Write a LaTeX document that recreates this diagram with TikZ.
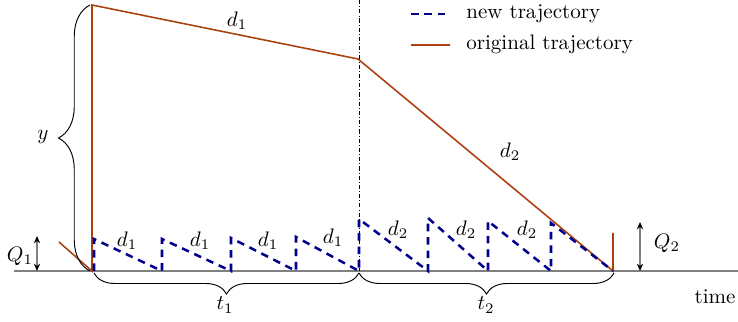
\documentclass[tikz,border=0pt]{standalone}
\usetikzlibrary{decorations.pathreplacing,arrows.meta}
\definecolor{origc}{RGB}{170,65,15}
\definecolor{newc}{RGB}{0,0,140}
\begin{document}
\begin{tikzpicture}[x=0.4762pt,y=-0.4762pt,
  orig/.style={draw=origc,line width=0.75pt},
  newtraj/.style={draw=newc,line width=1.2pt,dash pattern=on 3.6pt off 2.8pt},
  axisline/.style={draw=gray,line width=0.5pt},
  bracedec/.style={decorate,decoration={brace,amplitude=#1},line width=0.45pt},
  qarrow/.style={draw=gray,line width=0.6pt,{Stealth[black,length=3.5pt,width=3pt]}-{Stealth[black,length=3.5pt,width=3pt]}},
  lbl/.style={inner sep=0pt}]
\useasboundingbox (0,0) rectangle (738,322);
% axis
\coordinate (ax0) at (14,271);
\coordinate (ax1) at (738,271);
\draw[axisline] (ax0) -- (ax1);
% dash-dot separator
\coordinate (s0) at (359,0);
\coordinate (s1) at (359,271);
\draw[line width=0.4pt,dash pattern=on 2pt off 1pt on 0.4pt off 1pt] (s0) -- (s1);
% original trajectory
\coordinate (o0) at (59,242);
\coordinate (o1) at (92,271);
\coordinate (o2) at (92,5);
\coordinate (o3) at (358,59);
\coordinate (o4) at (613,271);
\coordinate (o5) at (613,233);
\draw[orig,line join=miter] (o0) -- (o1) -- (o2) -- (o3) -- (o4) -- (o5);
% new trajectory
\draw[newtraj] (94,271) -- (94,239) -- (162,271) -- (162,239) -- (231,271) -- (231,238)
  -- (296,271) -- (296,237) -- (359,271) -- (359,219) -- (428,271) -- (428,218)
  -- (488,271) -- (488,221) -- (551,271) -- (551,223) -- (613,271);
% braces
\coordinate (yb0) at (90,271);
\coordinate (yb1) at (90,5);
\draw[bracedec=15pt] (yb0) -- (yb1);
\coordinate (tb0) at (94,273);
\coordinate (tb1) at (359,273);
\coordinate (tb2) at (614,273);
\draw[bracedec=10pt] (tb1) -- (tb0);
\draw[bracedec=10pt] (tb2) -- (tb1);
% Q arrows
\coordinate (q1a) at (37,236);
\coordinate (q1b) at (37,271);
\draw[qarrow] (q1a) -- (q1b);
\coordinate (q2a) at (640,222);
\coordinate (q2b) at (640,271);
\draw[qarrow] (q2a) -- (q2b);
% labels
\node[lbl] (ly) at (43,137) {$y$};
\node[lbl] (lt1) at (225,305) {$t_1$};
\node[lbl] (lt2) at (486,305) {$t_2$};
\node[lbl] (ltime) at (715,297) {time};
\node[lbl] (lq1) at (20,256) {$Q_1$};
\node[lbl] (lq2) at (667,243) {$Q_2$};
\node[lbl] (ld1big) at (237,21) {$d_1$};
\node[lbl] (ld2big) at (510,152) {$d_2$};
\node[lbl] (la) at (127,241) {$d_1$};
\node[lbl] (lb) at (200,241) {$d_1$};
\node[lbl] (lc) at (268,241) {$d_1$};
\node[lbl] (ld) at (333,238) {$d_1$};
\node[lbl] (le) at (398,230) {$d_2$};
\node[lbl] (lf) at (466,230) {$d_2$};
\node[lbl] (lg) at (527,230) {$d_2$};
% legend
\coordinate (lg0) at (411,14);
\coordinate (lg1) at (450,14);
\draw[newtraj] (lg0) -- (lg1);
\node[lbl,anchor=west] (leg1) at (466,14) {new trajectory};
\coordinate (lg2) at (411,45);
\coordinate (lg3) at (450,45);
\draw[orig] (lg2) -- (lg3);
\node[lbl,anchor=west] (leg2) at (466,44) {original trajectory};
\end{tikzpicture}
\end{document}
